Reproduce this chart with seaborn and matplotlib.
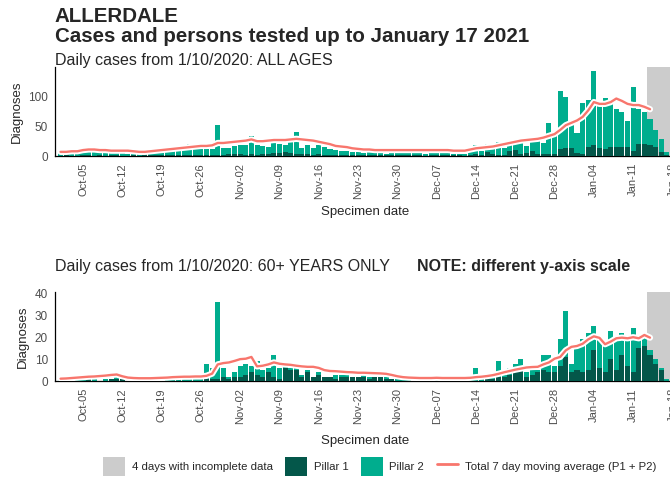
import matplotlib.pyplot as plt
import matplotlib.patheffects as pe
from matplotlib.patches import Patch
from matplotlib.lines import Line2D
import numpy as np
import pandas as pd
import seaborn as sns

sns.set_style("white")
plt.rcParams["font.family"] = ["Liberation Sans", "DejaVu Sans"]

dates = pd.date_range("2020-10-01", "2021-01-17")

# all ages: total cases per day (P1 + P2), pillar 1 part, 7 day average
all_cases = [5, 6, 5, 4, 6, 7, 6,
             6, 5, 7, 6, 5, 4, 5,
             5, 6, 6, 7, 8, 7, 9,
             9, 17, 21, 12, 11, 12, 11,
             52, 13, 14,
             17, 18, 19, 34, 18, 17, 16,
             31, 20, 19, 32, 40, 14, 18,
             13, 18, 15, 12, 10, 8, 9,
             7, 6, 5, 7, 6, 5, 4,
             6, 7, 5, 15, 6, 5, 4,
             5, 14, 6, 5, 4, 4, 3,
             6, 19, 8, 21, 12, 24, 14,
             26, 20, 30, 17, 31, 30, 22,
             56, 37, 110, 99, 55, 38, 89,
             94, 143, 90, 98, 90, 80, 75,
             59, 117, 80, 75, 62, 44, 28,
             6]
all_p1 = [0, 1, 0, 0, 1, 1, 0,
          1, 0, 1, 1, 0, 0, 1,
          0, 1, 1, 1, 1, 1, 2,
          1, 2, 2, 2, 1, 2, 2,
          2, 2, 3,
          3, 3, 2, 3, 2, 3, 3,
          5, 5, 6, 5, 4, 3, 3,
          2, 3, 2, 2, 2, 1, 2,
          1, 1, 1, 1, 1, 1, 1,
          1, 1, 1, 2, 1, 1, 0,
          1, 2, 1, 1, 1, 1, 0,
          1, 3, 2, 7, 3, 2, 2,
          9, 10, 3, 5, 9, 4, 3,
          3, 4, 11, 13, 13, 5, 4,
          16, 19, 13, 11, 15, 15, 15,
          15, 9, 21, 21, 18, 15, 7,
          2]
all_ma = [7, 7, 8, 8, 10, 11, 11,
          10, 10, 9, 9, 9, 9, 8,
          7, 7, 8, 9, 10, 11, 12,
          13, 14, 15, 16, 17, 17, 18,
          22, 22, 23,
          24, 25, 26, 28, 25, 25, 26,
          27, 27, 27, 28, 29, 28, 27,
          26, 24, 22, 20, 17, 16, 15,
          13, 12, 11, 11, 10, 10, 10,
          10, 10, 10, 10, 10, 10, 10,
          10, 10, 10, 10, 9, 9, 9,
          11, 13, 14, 15, 16, 18, 20,
          22, 24, 26, 27, 28, 29, 31,
          34, 37, 44, 52, 56, 60, 66,
          77, 91, 88, 88, 91, 97, 93,
          88, 86, 86, 83, 79]

# 60+ years only
old_cases = [1, 0, 1, 3, 3, 1, 1,
             0, 1, 1, 2, 1, 0, 0,
             1, 0, 1, 1, 0, 1, 1,
             1, 1, 1, 1, 2, 8, 6,
             36, 6, 2,
             4, 7, 8, 7, 9, 5, 6,
             12, 6, 7, 6, 6, 3, 5,
             2, 4, 2, 2, 3, 3, 3,
             2, 2, 3, 2, 2, 2, 2,
             1, 1, 1, 1, 0, 1, 1,
             1, 3, 1, 1, 1, 1, 1,
             1, 6, 1, 2, 3, 9, 3,
             6, 8, 10, 4, 5, 5, 12,
             12, 7, 19, 32, 8, 16, 19,
             22, 25, 19, 17, 23, 19, 22,
             20, 24, 21, 20, 14, 10, 6,
             1]
old_p1 = [0, 0, 0, 0, 0, 1, 0,
          0, 0, 1, 1, 1, 0, 0,
          0, 0, 0, 0, 0, 0, 0,
          0, 0, 0, 0, 0, 1, 1,
          1, 2, 1,
          2, 2, 3, 4, 3, 2, 4,
          2, 1, 6, 5, 5, 2, 4,
          2, 3, 2, 2, 1, 2, 2,
          2, 2, 2, 1, 2, 2, 1,
          1, 0, 0, 0, 0, 0, 0,
          0, 0, 0, 0, 0, 0, 0,
          0, 0, 0, 1, 1, 2, 2,
          3, 4, 5, 2, 3, 4, 5,
          4, 4, 7, 11, 4, 5, 4,
          5, 14, 6, 4, 10, 5, 12,
          7, 4, 15, 16, 12, 8, 5,
          0]
old_ma = [1.1, 1.2, 1.4, 1.6, 1.8, 2.0, 2.1,
          2.3, 2.5, 2.8, 3.0, 2.2, 1.6, 1.4,
          1.3, 1.3, 1.3, 1.4, 1.5, 1.6, 1.8,
          1.9, 2.0, 2.0, 2.1, 2.1, 2.4, 3.4,
          7.6, 8.2, 8.5,
          9.2, 10.0, 10.2, 11.0, 6.7, 7.0, 7.6,
          8.5, 7.9, 7.6, 7.4, 7.0, 6.7, 6.5,
          6.5, 6.0, 5.0, 4.6, 4.5, 4.3, 4.1,
          4.0, 3.8, 3.8, 3.7, 3.6, 3.5, 3.3,
          2.8, 2.2, 1.8, 1.6, 1.5, 1.4, 1.4,
          1.4, 1.5, 1.4, 1.4, 1.4, 1.4, 1.4,
          1.5, 1.8, 2.0, 2.3, 2.7, 3.3, 4.0,
          4.6, 5.2, 5.7, 6.2, 6.4, 6.5, 7.6,
          8.5, 10.2, 11.0, 14.0, 15.6, 16.0, 17.0,
          19.0, 20.4, 19.7, 16.8, 18.0, 19.5, 19.8,
          19.5, 20.0, 19.5, 21.0, 19.8]

incomplete_days = 4

P1_COL = "#04574a"
P2_COL = "#00ad8e"
LINE_COL = "#f8766d"
GREY = "#cccccc"
TXT = "#4d4d4d"


def draw_panel(ax, cases, p1, ma, ymax, yticks, xpad):
    day = np.arange(len(dates))
    df = pd.DataFrame({"day": day, "total": cases, "p1": p1})
    n = len(dates)
    ax.axvspan(n - incomplete_days - 0.5, n - 0.5, color=GREY, lw=0, zorder=0)
    sns.barplot(data=df, x="day", y="total", native_scale=True, color=P2_COL,
                saturation=1, width=0.9, linewidth=0, errorbar=None, ax=ax, zorder=2)
    sns.barplot(data=df, x="day", y="p1", native_scale=True, color=P1_COL,
                saturation=1, width=0.9, linewidth=0, errorbar=None, ax=ax, zorder=3)
    sns.lineplot(x=day[:len(ma)], y=ma, color=LINE_COL, linewidth=1.7, ax=ax, zorder=4,
                 path_effects=[pe.Stroke(linewidth=4.5, foreground="white"), pe.Normal()])
    ax.set_xlim(-1.0, 109.4)
    ax.set_ylim(0, ymax)
    ticks = np.arange(4, 110, 7)
    ax.set_xticks(ticks)
    ax.set_xticklabels([(dates[0] + pd.Timedelta(days=int(t))).strftime("%b-%d") for t in ticks],
                       rotation=90, fontsize=8, color=TXT)
    ax.set_yticks(yticks)
    ax.set_yticklabels([str(v) for v in yticks], fontsize=8.5, color=TXT)
    ax.tick_params(axis="both", length=3, width=0.8, color="#333333", pad=2)
    for s in ["top", "right"]:
        ax.spines[s].set_visible(False)
    for s in ["left", "bottom"]:
        ax.spines[s].set_color("black")
        ax.spines[s].set_linewidth(0.9)
    ax.set_xlabel("Specimen date", fontsize=9.5, labelpad=xpad)
    ax.set_ylabel("Diagnoses", fontsize=9.5, labelpad=4)


fig = plt.figure(figsize=(6.7, 4.83), dpi=100)
ax1 = fig.add_axes([0.082, 0.677, 0.925, 0.184])
ax2 = fig.add_axes([0.082, 0.211, 0.925, 0.184])

draw_panel(ax1, all_cases, all_p1, all_ma, 150, [0, 50, 100], 5)
draw_panel(ax2, old_cases, old_p1, old_ma, 40.5, [0, 10, 20, 30, 40], 8)

fig.text(0.082, 0.966, "ALLERDALE", fontsize=14.8, fontweight="bold", va="center")
fig.text(0.082, 0.925, "Cases and persons tested up to January 17 2021",
         fontsize=14.8, fontweight="bold", va="center")
fig.text(0.082, 0.875, "Daily cases from 1/10/2020: ALL AGES", fontsize=11.5, va="center")
fig.text(0.082, 0.449, "Daily cases from 1/10/2020: 60+ YEARS ONLY", fontsize=11.5, va="center")
fig.text(0.622, 0.449, "NOTE: different y-axis scale", fontsize=11.5,
         fontweight="bold", va="center")

handles = [Patch(facecolor=GREY, edgecolor="none"),
           Patch(facecolor=P1_COL, edgecolor="none"),
           Patch(facecolor=P2_COL, edgecolor="none"),
           Line2D([0], [0], color=LINE_COL, lw=2)]
labels = ["4 days with incomplete data", "Pillar 1", "Pillar 2",
          "Total 7 day moving average (P1 + P2)"]
fig.legend(handles, labels, loc="center", bbox_to_anchor=(0.567, 0.034), ncol=4,
           frameon=False, fontsize=8.2, handlelength=1.9, handleheight=2.2,
           handletextpad=0.6, columnspacing=1.1)

fig.savefig("out.png", dpi=100)
